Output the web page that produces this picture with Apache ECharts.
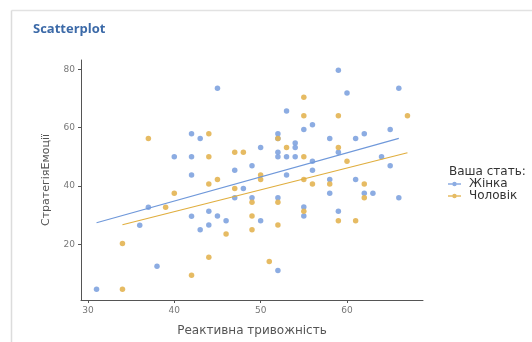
<!DOCTYPE html>
<html><head><meta charset="utf-8">
<script src="https://cdn.jsdelivr.net/npm/echarts@6/dist/echarts.min.js"></script>
<style>html,body{margin:0;padding:0;background:#fff}#c{width:532px;height:342px}</style>
</head><body><div id="c"></div>
<script>
const groups = ['Жінка', 'Чоловік'];
const xTicks = [30, 40, 50, 60];
const yTicks = [20, 40, 60, 80];
const femalePoints = [
  [31,4.6],[38,12.5],[36,26.5],[37,32.7],[40,50],[42,50],[42,57.9],[42,43.8],[42,29.6],
  [43,56.3],[43,25],[44,31.3],[44,26.6],[45,73.5],[45,29.7],[46,28.1],[47,45.4],[47,36.0],
  [48,39.1],[49,46.9],[49,36.0],[50,53.2],[50,28.1],[52,11.0],[52,57.9],[52,51.6],[52,50.0],
  [52,36.0],[52,56.3],[53,50.0],[53,65.7],[53,43.8],[54,54.7],[54,53.2],[54,50.0],[55,59.4],
  [55,32.8],[55,29.7],[56,61.0],[56,48.5],[56,45.4],[58,56.3],[58,42.2],[58,37.5],[59,79.7],
  [60,71.9],[66,73.5],[61,56.3],[62,57.9],[65,59.4],[59,51.6],[64,50.0],[65,46.9],[61,42.2],
  [62,37.5],[63,37.5],[66,36.0],[59,31.3]
];
const malePoints = [
  [34,4.6],[34,20.3],[39,32.7],[40,37.5],[37,56.3],[42,9.4],[44,57.9],[44,50],[44,40.7],
  [44,15.6],[45,42.2],[46,23.5],[47,51.6],[48,51.6],[47,39.1],[49,34.4],[49,29.7],[49,25.0],
  [50,43.8],[50,42.2],[51,14.1],[52,56.3],[52,34.4],[52,26.6],[53,53.2],[55,70.4],[55,64.1],
  [55,50.0],[55,42.2],[55,31.3],[56,40.7],[58,40.7],[59,64.1],[67,64.1],[59,53.2],[60,48.5],
  [62,40.7],[62,36.0],[59,28.1],[61,28.1]
];
const femaleFit = [[31,27.4],[66,56.3]];
const maleFit = [[34,26.7],[67,51.4]];

const blue = '#7fa3df', orange = '#e3b452';
const blueLine = '#6f98da', orangeLine = '#e0ae3e';
const font = 'DejaVu Sans';
const legendIcon = 'path://M0,4.3L14,4.3L14,5.7L0,5.7Z M7,2.6A2.4,2.4 0 1 1 7,7.4A2.4,2.4 0 1 1 7,2.6Z';

const chart = echarts.init(document.getElementById('c'), null, {renderer: 'canvas'});
chart.setOption({
  animation: false,
  backgroundColor: '#fff',
  graphic: [
    {type: 'line', shape: {x1: 11.5, y1: 10.5, x2: 532, y2: 10.5}, style: {stroke: '#e2e2e2', lineWidth: 1.5}},
    {type: 'line', shape: {x1: 11.5, y1: 10.5, x2: 11.5, y2: 342}, style: {stroke: '#dcdcdc', lineWidth: 1.5}}
  ],
  title: [
    {text: 'Scatterplot', left: 28, top: 18, textStyle: {fontFamily: 'Open Sans', fontWeight: 'bold', fontSize: 13, color: '#3c6aa8'}},
    {text: 'Ваша стать:', left: 444, top: 161, textStyle: {fontFamily: font, fontWeight: 'normal', fontSize: 12, color: '#333'}}
  ],
  legend: {
    data: groups, orient: 'vertical', left: 443, top: 178, itemGap: 0, padding: [0, 5],
    itemWidth: 13, itemHeight: 10, icon: legendIcon,
    textStyle: {fontFamily: font, fontSize: 12, lineHeight: 12, color: '#333', padding: [0, 0, 0, 3]}
  },
  grid: {left: 81, top: 60, width: 342, height: 246, containLabel: false},
  xAxis: {
    type: 'value', min: 29.2, max: 68.8,
    name: 'Реактивна тривожність', nameLocation: 'middle', nameGap: 25,
    nameTextStyle: {fontFamily: font, fontSize: 12, color: '#555'},
    splitLine: {show: false},
    axisLine: {show: true, lineStyle: {color: '#555', width: 1}},
    axisTick: {show: true, length: 3, customValues: xTicks, lineStyle: {color: '#555'}},
    axisLabel: {customValues: xTicks, fontFamily: font, fontSize: 9, color: '#777', margin: 6}
  },
  yAxis: {
    type: 'value', min: 0.9, max: 83.2,
    name: 'СтратегіяЕмоції', nameLocation: 'middle', nameGap: 29, nameRotate: 90,
    nameTextStyle: {fontFamily: font, fontSize: 11, color: '#555'},
    splitLine: {show: false},
    axisLine: {show: true, lineStyle: {color: '#555', width: 1}},
    axisTick: {show: true, length: 3, customValues: yTicks, lineStyle: {color: '#555'}},
    axisLabel: {customValues: yTicks, fontFamily: font, fontSize: 9, color: '#777', margin: 6}
  },
  series: [
    {name: groups[0], type: 'scatter', data: femalePoints, symbolSize: 5.5, itemStyle: {color: blue, opacity: 0.9}},
    {name: groups[1], type: 'scatter', data: malePoints, symbolSize: 5.5, itemStyle: {color: orange, opacity: 0.9}},
    {name: groups[0], type: 'line', data: femaleFit, symbol: 'none', lineStyle: {color: blueLine, width: 1.2}, itemStyle: {color: blueLine}},
    {name: groups[1], type: 'line', data: maleFit, symbol: 'none', lineStyle: {color: orangeLine, width: 1.2}, itemStyle: {color: orangeLine}}
  ]
});
</script></body></html>
